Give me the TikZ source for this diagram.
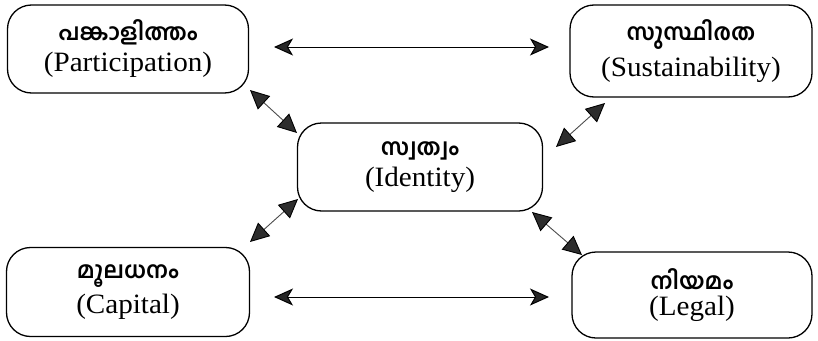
\documentclass[tikz,border=0pt]{standalone}
\usepackage{fontspec}
\setmainfont{Liberation Serif}
\newfontfamily\malfont[Script=Malayalam]{Hind Kochi}
\usetikzlibrary{arrows.meta}
\tikzset{
  box/.style={draw=black, line width=1.3pt, rounded corners=24pt, minimum width=241pt, align=center, inner sep=0pt},
  harr/.style={line width=1pt, {Stealth[length=19pt,width=17pt,inset=5pt,fill=gray!30!black]}-{Stealth[length=19pt,width=17pt,inset=5pt,fill=gray!30!black]}},
  darr/.style={line width=0.9pt, draw=gray!60!black, {Triangle[length=19pt,width=18pt,fill=gray!35!black,color=black]}-{Triangle[length=19pt,width=18pt,fill=gray!35!black,color=black]}},
}
\newcommand{\twoline}[2]{{\malfont\bfseries\fontsize{23}{24}\selectfont #1}\\[6pt]{\fontsize{28}{30}\selectfont\addfontfeature{FakeStretch=1.04}#2}}
\begin{document}
\begin{tikzpicture}[x=1pt,y=-1pt]
\useasboundingbox (0,0) rectangle (818,340);
\node[box, minimum height=88pt] (pl) at (128,49) {\twoline{പങ്കാളിത്തം}{(Participation)}};
\node[box, minimum height=92pt, minimum width=242pt] (su) at (691,51) {\twoline{സുസ്ഥിരത}{(Sustainability)}};
\node[box, minimum height=88pt, minimum width=245pt] (id) at (420,167) {\twoline{സ്വത്വം}{(Identity)}};
\node[box, minimum height=89pt, minimum width=243pt] (ca) at (128,292) {\twoline{മൂലധനം}{(Capital)}};
\node[box, minimum height=86pt, minimum width=240pt] (le) at (692,295) {\twoline{നിയമം}{(Legal)}};
\coordinate (t1) at (274,47);
\coordinate (t2) at (549,47);
\coordinate (b1) at (274,297);
\coordinate (b2) at (549,297);
\coordinate (d1a) at (250,90);
\coordinate (d1b) at (297,133);
\coordinate (d2a) at (605,103);
\coordinate (d2b) at (556,147);
\coordinate (d3a) at (298,199);
\coordinate (d3b) at (250,242);
\coordinate (d4a) at (532,212);
\coordinate (d4b) at (582,255);
\draw[harr] (t1) -- (t2);
\draw[harr] (b1) -- (b2);
\draw[darr] (d1a) -- (d1b);
\draw[darr] (d2a) -- (d2b);
\draw[darr] (d3a) -- (d3b);
\draw[darr] (d4a) -- (d4b);
\end{tikzpicture}
\end{document}
